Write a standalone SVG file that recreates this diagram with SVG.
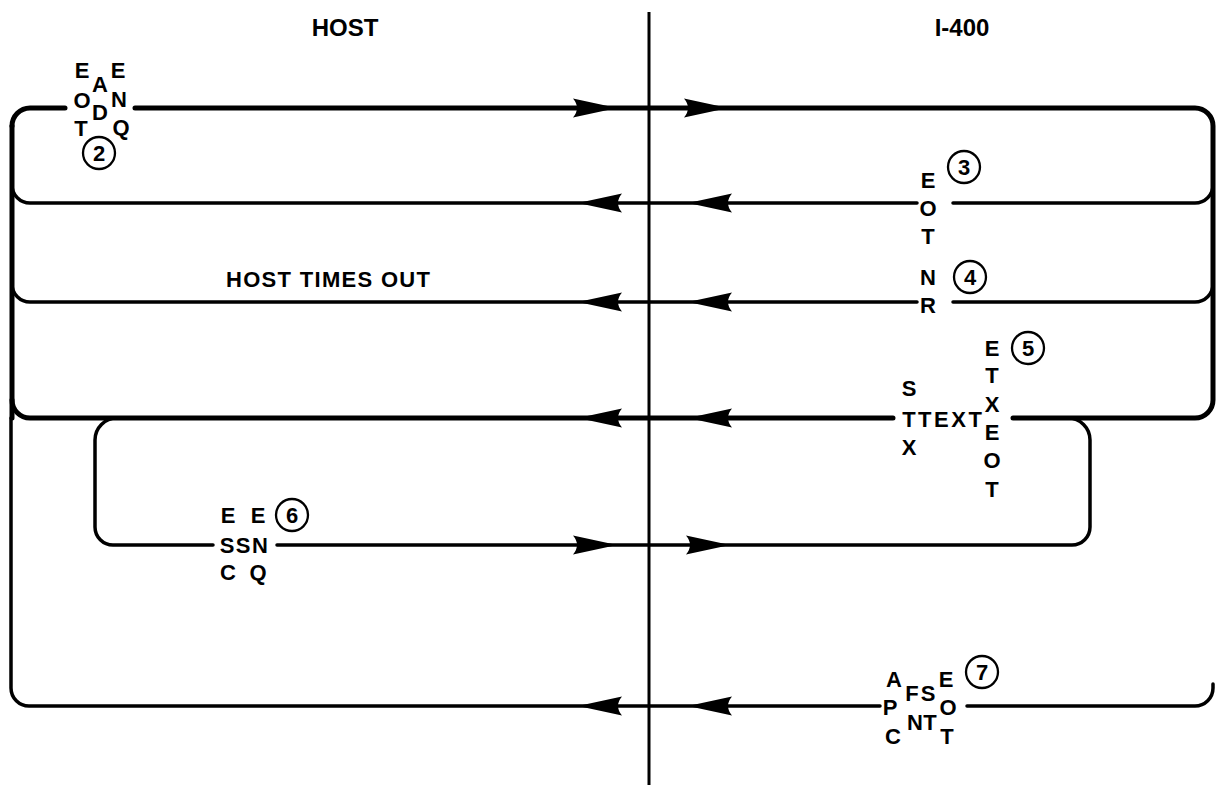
<svg xmlns="http://www.w3.org/2000/svg" width="1218" height="785" viewBox="0 0 1218 785">
<style>
.thick{fill:none;stroke:#000;stroke-width:5;stroke-linecap:round}
.med{fill:none;stroke:#000;stroke-width:3.5;stroke-linecap:round}
.thin{fill:none;stroke:#000;stroke-width:3}
.t{font-family:"Liberation Sans",Arial,Helvetica,sans-serif;font-weight:bold;font-size:22px;text-anchor:middle;fill:#000}
.h{font-size:24px}
.circ{fill:none;stroke:#000;stroke-width:2.3}
</style>
<defs>
<path id="ah" d="M0,0 L-44,-9.5 Q-36,0 -44,9.5 Z" fill="#000"/>
</defs>
<rect width="1218" height="785" fill="#fff"/>
<g id="headers">
<text class="t h" x="345" y="36">HOST</text>
<text class="t h" x="962" y="36">I-400</text>
</g>
<g id="connectors">
<line class="thin" x1="649" y1="12" x2="649" y2="785"/>
<path class="thick" d="M65,108 H30 A18,18 0 0 0 12,126"/>
<path class="thick" d="M135,108 H1195 A18,18 0 0 1 1213,126 V400 A18,18 0 0 1 1195,418 H1013"/>
<path class="thick" d="M12,126 V418"/>
<path class="med" d="M11,418 V688 A18,18 0 0 0 29,706 H880"/>
<path class="med" d="M12,185 A18,18 0 0 0 30,203 H917"/>
<path class="med" d="M953,203 H1195 A18,18 0 0 0 1213,185"/>
<path class="med" d="M12,284 A18,18 0 0 0 30,302 H917"/>
<path class="med" d="M953,302 H1195 A18,18 0 0 0 1213,284"/>
<path class="thick" d="M12,400 A18,18 0 0 0 30,418 H893"/>
<path class="med" d="M117,418 A22,22 0 0 0 95,440 V527 A18,18 0 0 0 113,545 H213"/>
<path class="med" d="M277,545 H1072 A18,18 0 0 0 1090,527 V440 A22,22 0 0 0 1068,418"/>
<path class="med" d="M967,706 H1195 A18,18 0 0 0 1213,688 V684"/>
<use href="#ah" transform="translate(617,108)"/>
<use href="#ah" transform="translate(728,108)"/>
<use href="#ah" transform="translate(578,203) rotate(180)"/>
<use href="#ah" transform="translate(688,203) rotate(180)"/>
<use href="#ah" transform="translate(578,302) rotate(180)"/>
<use href="#ah" transform="translate(688,302) rotate(180)"/>
<use href="#ah" transform="translate(578,418) rotate(180)"/>
<use href="#ah" transform="translate(688,418) rotate(180)"/>
<use href="#ah" transform="translate(617,545)"/>
<use href="#ah" transform="translate(730,545)"/>
<use href="#ah" transform="translate(578,706) rotate(180)"/>
<use href="#ah" transform="translate(688,706) rotate(180)"/>
</g>
<g id="msg2">
<text class="t" x="82" y="78">E</text>
<text class="t" x="100" y="92">A</text>
<text class="t" x="118" y="78">E</text>
<text class="t" x="82" y="108">O</text>
<text class="t" x="119" y="107">N</text>
<text class="t" x="100" y="120">D</text>
<text class="t" x="81" y="136">T</text>
<text class="t" x="121" y="135">Q</text>
<circle class="circ" cx="99" cy="153" r="16"/>
<text class="t" x="99" y="161">2</text>
</g>
<g id="msg3">
<text class="t" x="928" y="188">E</text>
<text class="t" x="928" y="216">O</text>
<text class="t" x="928" y="244">T</text>
<circle class="circ" cx="964" cy="167" r="16"/>
<text class="t" x="964" y="175">3</text>
</g>
<g id="msg4">
<text class="t" x="928" y="285">N</text>
<text class="t" x="928" y="313">R</text>
<circle class="circ" cx="970" cy="277" r="16"/>
<text class="t" x="970" y="285">4</text>
</g>
<g id="msg-timeout">
<text class="t" x="328" y="287" textLength="204" lengthAdjust="spacing">HOST TIMES OUT</text>
</g>
<g id="msg5">
<text class="t" x="909" y="396">S</text>
<text class="t" x="909" y="427">T</text>
<text class="t" x="909" y="455">X</text>
<text class="t" x="950" y="427" textLength="64" lengthAdjust="spacing">TEXT</text>
<text class="t" x="992" y="356">E</text>
<text class="t" x="992" y="383">T</text>
<text class="t" x="992" y="412">X</text>
<text class="t" x="992" y="440">E</text>
<text class="t" x="992" y="468">O</text>
<text class="t" x="992" y="497">T</text>
<circle class="circ" cx="1028" cy="348" r="16"/>
<text class="t" x="1028" y="356">5</text>
</g>
<g id="msg6">
<text class="t" x="228" y="523">E</text>
<text class="t" x="258" y="523">E</text>
<text class="t" x="227" y="553">S</text>
<text class="t" x="243" y="553">S</text>
<text class="t" x="260" y="553">N</text>
<text class="t" x="228" y="580">C</text>
<text class="t" x="258" y="580">Q</text>
<circle class="circ" cx="292" cy="515" r="16"/>
<text class="t" x="292" y="523">6</text>
</g>
<g id="msg7">
<text class="t" x="894" y="687">A</text>
<text class="t" x="912" y="701">F</text>
<text class="t" x="928" y="701">S</text>
<text class="t" x="946" y="687">E</text>
<text class="t" x="890" y="715">P</text>
<text class="t" x="915" y="730">N</text>
<text class="t" x="930" y="730">T</text>
<text class="t" x="948" y="715">O</text>
<text class="t" x="893" y="744">C</text>
<text class="t" x="947" y="744">T</text>
<circle class="circ" cx="982" cy="672" r="16"/>
<text class="t" x="982" y="680">7</text>
</g>
</svg>
